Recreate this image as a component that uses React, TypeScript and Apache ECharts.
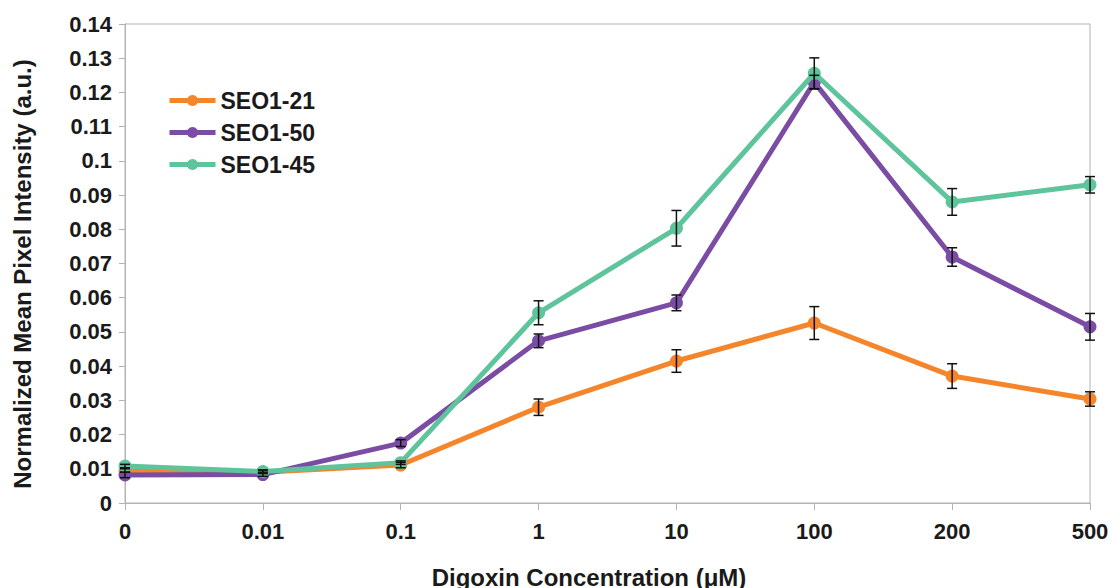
import React, { useEffect, useRef } from "react";
import * as echarts from "echarts";

const categories = ["0", "0.01", "0.1", "1", "10", "100", "200", "500"];
const seriesNames = ["SEO1-21", "SEO1-50", "SEO1-45"];
const seriesColors = ["#f5852a", "#7a4ca4", "#5ec49c"];

const seo121 = [0.0095, 0.009, 0.0111, 0.028, 0.0415, 0.0526, 0.0371, 0.0304];
const seo150 = [0.0082, 0.0083, 0.0175, 0.0474, 0.0585, 0.123, 0.0719, 0.0515];
const seo145 = [0.0108, 0.0092, 0.0118, 0.0556, 0.0803, 0.1256, 0.088, 0.093];

const err121 = [0.0005, 0.0004, 0.0008, 0.0024, 0.0033, 0.0048, 0.0036, 0.0021];
const err150 = [0.0008, 0.0005, 0.001, 0.002, 0.0023, 0.002, 0.0027, 0.0039];
const err145 = [0.0005, 0.0005, 0.0005, 0.0035, 0.0052, 0.0045, 0.0039, 0.0024];

const yTicks = { min: 0, max: 0.14, interval: 0.01 };

const xTitle = "Digoxin Concentration (μM)";
const yTitle = "Normalized Mean Pixel Intensity (a.u.)";

const FONT = "'Liberation Sans', Arial, sans-serif";

export default function App() {
  const ref = useRef<HTMLDivElement>(null);

  useEffect(() => {
    document.body.style.margin = "0";
    if (!ref.current) return;
    const chart = echarts.init(ref.current, null, { renderer: "svg" });

    const values = [seo121, seo150, seo145];
    const errs = [err121, err150, err145];

    const lineSeries = values.map((v, i) => ({
      name: seriesNames[i],
      type: "line",
      data: v,
      symbol: "circle",
      symbolSize: 13,
      lineStyle: { width: 5, color: seriesColors[i] },
      itemStyle: { color: seriesColors[i] },
      z: 2 + i,
    }));

    const errSeries = values.map((v, i) => ({
      type: "custom",
      name: seriesNames[i] + " err",
      z: 10,
      silent: true,
      encode: { x: 0, y: [1, 2] },
      data: v.map((val, k) => [k, val - errs[i][k], val + errs[i][k]]),
      renderItem: (params: any, api: any) => {
        const x = api.value(0);
        const lo = api.coord([x, api.value(1)]);
        const hi = api.coord([x, api.value(2)]);
        const hw = 5;
        const style = { stroke: "#111", lineWidth: 1.5 };
        return {
          type: "group",
          children: [
            { type: "line", shape: { x1: lo[0], y1: lo[1], x2: hi[0], y2: hi[1] }, style },
            { type: "line", shape: { x1: hi[0] - hw, y1: hi[1], x2: hi[0] + hw, y2: hi[1] }, style },
            { type: "line", shape: { x1: lo[0] - hw, y1: lo[1], x2: lo[0] + hw, y2: lo[1] }, style },
          ],
        };
      },
    }));

    chart.setOption({
      animation: false,
      backgroundColor: "#ffffff",
      textStyle: { fontFamily: FONT },
      grid: {
        left: 125,
        right: 22,
        top: 24,
        bottom: 85,
        show: true,
        borderColor: "#b3b3b3",
        borderWidth: 1,
        backgroundColor: "transparent",
      },
      legend: {
        data: seriesNames,
        orient: "vertical",
        left: 162,
        top: 84,
        itemWidth: 46,
        itemHeight: 14,
        itemGap: 9,
        lineStyle: { width: 5 },
        textStyle: { fontFamily: FONT, fontSize: 23, fontWeight: "bold", color: "#1a1a1a" },
      },
      xAxis: {
        type: "category",
        data: categories,
        boundaryGap: false,
        axisLine: { lineStyle: { color: "#b3b3b3", width: 1 } },
        axisTick: { show: true, alignWithLabel: true, length: 7, lineStyle: { color: "#b3b3b3" } },
        axisLabel: { fontFamily: FONT, fontSize: 22, fontWeight: "bold", color: "#1a1a1a", margin: 17 },
        splitLine: { show: false },
      },
      yAxis: {
        type: "value",
        min: yTicks.min,
        max: yTicks.max,
        interval: yTicks.interval,
        axisLine: { show: true, lineStyle: { color: "#b3b3b3", width: 1 } },
        axisTick: { show: true, length: 6, lineStyle: { color: "#b3b3b3" } },
        axisLabel: {
          fontFamily: FONT,
          fontSize: 22,
          fontWeight: "bold",
          color: "#1a1a1a",
          margin: 13,
          formatter: (v: number) => String(+v.toFixed(2)),
        },
        splitLine: { show: false },
      },
      graphic: [
        {
          type: "text",
          x: 589,
          y: 577,
          style: {
            text: xTitle,
            fontFamily: FONT,
            fontSize: 24,
            fontWeight: "bold",
            fill: "#1a1a1a",
            textAlign: "center",
            textVerticalAlign: "middle",
          },
        },
        {
          type: "text",
          x: 22,
          y: 274,
          rotation: Math.PI / 2,
          style: {
            text: yTitle,
            fontFamily: FONT,
            fontSize: 24,
            fontWeight: "bold",
            fill: "#1a1a1a",
            textAlign: "center",
            textVerticalAlign: "middle",
          },
        },
      ],
      series: [...lineSeries, ...errSeries],
    });

    return () => chart.dispose();
  }, []);

  return <div ref={ref} style={{ width: 1112, height: 588 }} />;
}
